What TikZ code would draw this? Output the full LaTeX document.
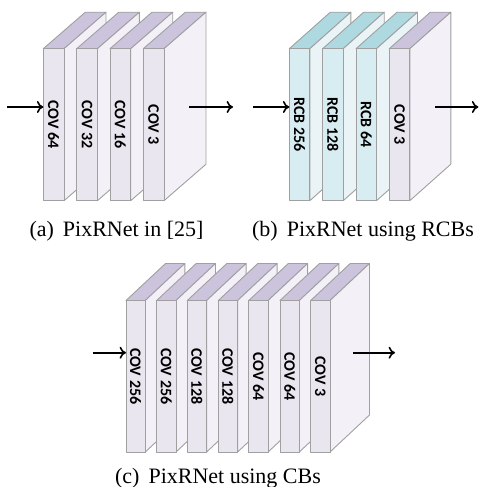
\documentclass[tikz,border=0pt]{standalone}
\usepackage{fontspec}
\usepackage{graphicx}
\setmainfont{Liberation Serif}
\newfontfamily\lblfont{Carlito}
\usetikzlibrary{arrows.meta}
\definecolor{covfront}{HTML}{E9E6EF}
\definecolor{covside}{HTML}{F3F1F7}
\definecolor{covtop}{HTML}{CCC3DC}
\definecolor{rcbfront}{HTML}{D8EDF2}
\definecolor{rcbside}{HTML}{EAF4F6}
\definecolor{rcbtop}{HTML}{AED9E0}
\definecolor{edgegray}{HTML}{A0A0A0}
\tikzset{
  face/.style={draw=edgegray, line width=0.45pt, line join=round},
  frontface/.style={face, rectangle, inner sep=0pt, outer sep=0pt, anchor=north west},
  lbl/.style={font=\lblfont\bfseries\fontsize{8}{9}\selectfont, rotate=-90, inner sep=0pt},
  arr/.style={line width=0.8pt, -{To[length=3.2pt,width=6pt]}},
  captext/.style={font=\fontsize{11}{13}\selectfont, inner sep=0pt}
}
% name, x, ytop, w, h, dx, dy, colour prefix, label
\newcommand\slab[9]{%
  \fill[#8top] (#2,#3) -- ++(#4,0) -- ++(#6,#7) -- ++(-#4,0) -- cycle;
  \draw[face] (#2,#3) -- ++(#4,0) -- ++(#6,#7) -- ++(-#4,0) -- cycle;
  \draw[face, fill=#8side] ({#2+#4},#3) -- ++(#6,#7) -- ++(0,#5) -- ++(-#6,-#7) -- cycle;
  \node[frontface, fill=#8front, minimum width={#4*0.5pt}, minimum height={#5*0.5pt}] (#1) at (#2,#3) {};
  \node[lbl] (#1l) at (#1.center) {#9};
}
\begin{document}
\begin{tikzpicture}[x=0.5pt,y=-0.5pt]
\useasboundingbox (0,0) rectangle (479,487);
% panel (a)
\slab{a1}{43.3}{48.7}{20.7}{152}{42}{-36.5}{cov}{COV 64}
\slab{a2}{76.7}{48.7}{20.7}{152}{42}{-36.5}{cov}{COV 32}
\slab{a3}{110}{48.7}{20.7}{152}{42}{-36.5}{cov}{COV 16}
\slab{a4}{143.3}{48.7}{20.7}{152}{42}{-36.5}{cov}{COV 3}
\coordinate (ain) at (7,107);
\coordinate (aout1) at (189,107);
\coordinate (aout2) at (233,107);
\draw[arr] (ain) -- (ain -| a1.west);
\draw[arr] (aout1) -- (aout2);
\node[captext] (capa) at (116.5,231) {(a)\hspace{4.5pt}PixRNet in [25]};
% panel (b)
\slab{b1}{289.3}{48.7}{20.5}{152}{41}{-36.5}{rcb}{RCB 256}
\slab{b2}{322.7}{48.7}{20.5}{152}{41}{-36.5}{rcb}{RCB 128}
\slab{b3}{356}{48.7}{20.5}{152}{41}{-36.5}{rcb}{RCB 64}
\slab{b4}{389.3}{48.7}{20.5}{152}{41}{-36.5}{cov}{COV 3}
\coordinate (bin) at (253.3,107);
\coordinate (bout1) at (435,107);
\coordinate (bout2) at (478.3,107);
\draw[arr] (bin) -- (bin -| b1.west);
\draw[arr] (bout1) -- (bout2);
\node[captext] (capb) at (363,231) {(b)\hspace{4.5pt}PixRNet using RCBs};
% panel (c)
\slab{c1}{126}{300.5}{19.3}{151.5}{39.5}{-37}{cov}{COV 256}
\slab{c2}{156.7}{300.5}{19.3}{151.5}{39.5}{-37}{cov}{COV 256}
\slab{c3}{187.3}{300.5}{19.3}{151.5}{39.5}{-37}{cov}{COV 128}
\slab{c4}{218.3}{300.5}{19.3}{151.5}{39.5}{-37}{cov}{COV 128}
\slab{c5}{248.8}{300.5}{19.3}{151.5}{39.5}{-37}{cov}{COV 64}
\slab{c6}{280}{300.5}{19.3}{151.5}{39.5}{-37}{cov}{COV 64}
\slab{c7}{310.7}{300.5}{19.3}{151.5}{39.5}{-37}{cov}{COV 3}
\coordinate (cin) at (92.7,352.7);
\coordinate (cout1) at (353.3,352.7);
\coordinate (cout2) at (395,352.7);
\draw[arr] (cin) -- (cin -| c1.west);
\draw[arr] (cout1) -- (cout2);
\node[captext] (capc) at (218,478.5) {(c)\hspace{4.5pt}PixRNet using CBs};
\end{tikzpicture}
\end{document}
